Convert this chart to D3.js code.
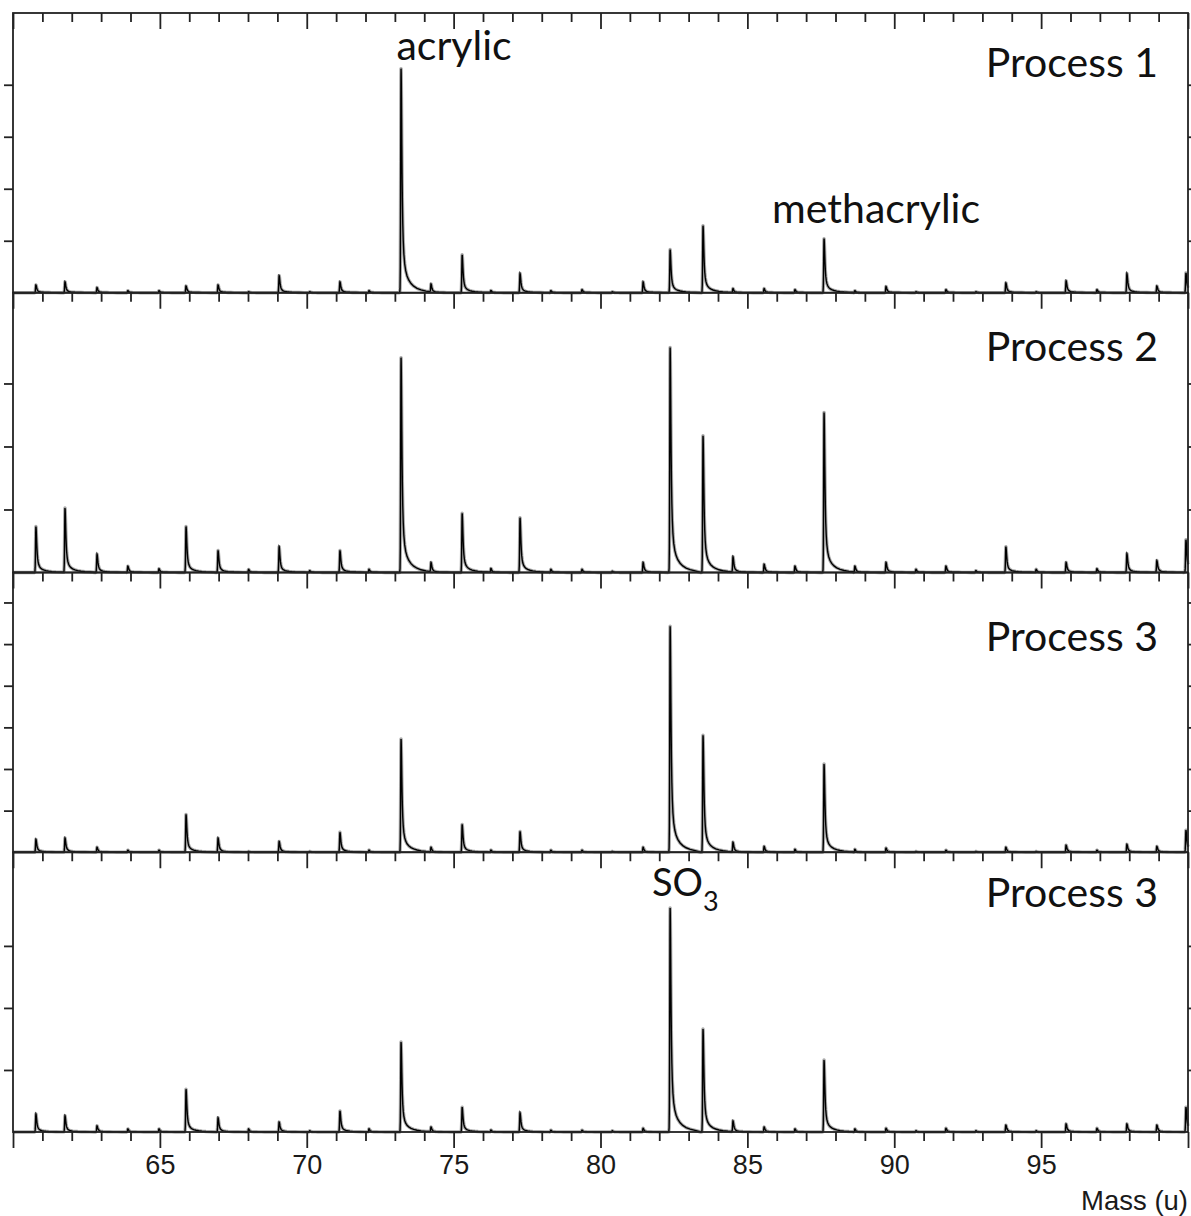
<!DOCTYPE html>
<html>
<head>
<meta charset="utf-8">
<script src="https://cdn.jsdelivr.net/npm/d3@7"></script>
<style>
  body { margin: 0; background: #fff; }
  svg { display: block; }
</style>
</head>
<body>
<div id="chart"></div>
<script>
// peak positions (u), shared by all four spectra
var masses = [60.78, 61.77, 62.86, 63.91, 64.97, 65.89, 66.98, 68.02, 69.06, 70.10,
  71.13, 72.12, 73.21, 74.23, 75.29, 76.27, 77.26, 78.31, 79.37, 80.40,
  81.45, 82.37, 83.49, 84.51, 85.57, 86.62, 87.61, 88.66, 89.72, 90.74,
  91.76, 92.78, 93.80, 94.83, 95.85, 96.90, 97.92, 98.94, 99.93];

// peak heights (axis units), one value per mass above
var process1 = [0.15, 0.21, 0.10, 0.04, 0.04, 0.13, 0.15, 0.02, 0.33, 0.02,
  0.21, 0.04, 4.31, 0.17, 0.73, 0.04, 0.37, 0.04, 0.06, 0.02,
  0.21, 0.83, 1.29, 0.08, 0.08, 0.06, 1.04, 0.04, 0.12, 0.02,
  0.06, 0.02, 0.19, 0.02, 0.23, 0.06, 0.37, 0.13, 0.38];
var process2 = [0.73, 1.02, 0.29, 0.10, 0.06, 0.73, 0.35, 0.05, 0.41, 0.03,
  0.35, 0.05, 3.41, 0.16, 0.94, 0.06, 0.87, 0.05, 0.05, 0.02,
  0.16, 3.57, 2.17, 0.25, 0.13, 0.10, 2.54, 0.10, 0.16, 0.05,
  0.10, 0.03, 0.41, 0.05, 0.16, 0.06, 0.30, 0.19, 0.52];
var process3a = [0.31, 0.34, 0.12, 0.05, 0.05, 0.91, 0.34, 0.02, 0.26, 0.02,
  0.48, 0.05, 2.72, 0.12, 0.67, 0.05, 0.50, 0.05, 0.05, 0.02,
  0.12, 5.43, 2.81, 0.24, 0.14, 0.07, 2.12, 0.07, 0.10, 0.02,
  0.05, 0.02, 0.12, 0.02, 0.17, 0.05, 0.19, 0.14, 0.53];
var process3b = [0.29, 0.26, 0.10, 0.05, 0.05, 0.69, 0.23, 0.05, 0.16, 0.02,
  0.34, 0.05, 1.45, 0.08, 0.40, 0.03, 0.31, 0.03, 0.03, 0.02,
  0.06, 3.61, 1.66, 0.18, 0.08, 0.05, 1.16, 0.05, 0.06, 0.02,
  0.06, 0.02, 0.11, 0.02, 0.13, 0.06, 0.13, 0.11, 0.40];

var panelNames = ["Process 1", "Process 2", "Process 3", "Process 3"];
var panelData = [process1, process2, process3a, process3b];
var yMax = [5.38, 4.44, 6.72, 4.51];
var yTicks = [[1, 2, 3, 4], [1, 2, 3], [1, 2, 3, 4, 5, 6], [1, 2, 3]];

var xDomain = [60, 100];
var xMajor = [60, 65, 70, 75, 80, 85, 90, 95, 100];
var xMinor = d3.range(61, 100).filter(function(v) { return v % 5 !== 0; });
var xLabels = ["65", "70", "75", "80", "85", "90", "95"];

var annoText = ["acrylic", "methacrylic"];
var annoMass = [73.21, 87.61];

var W = 1191, H = 1216;
var padL = 13, padR = 1188, padT = 13, padB = 1132;
var ph = (padB - padT) / 4;
var ink = "#222";

var svg = d3.select("#chart").append("svg")
  .attr("width", W)
  .attr("height", H);

var x = d3.scaleLinear().domain(xDomain).range([padL, padR]);

// line shape of one peak, d = offset from the peak centre in u
function shape(d, g) {
  if (d < 0) return Math.exp(-(d / (g * 0.5)) * (d / (g * 0.5)));
  return 0.9 / (1 + (d / g) * (d / g)) + 0.1 * Math.exp(-d / 0.3);
}
var offs = [-0.06, -0.04, -0.03, -0.022, -0.016, -0.011, -0.006, -0.003, 0,
  0.004, 0.008, 0.012, 0.017, 0.023, 0.03, 0.04, 0.052, 0.066, 0.085, 0.11,
  0.14, 0.18, 0.23, 0.3, 0.38, 0.48, 0.6, 0.75, 0.92];

function trace(heights, g) {
  var xs = [xDomain[0], xDomain[1]];
  masses.forEach(function(m) {
    offs.forEach(function(o) { xs.push(m + o * g / 0.03); });
  });
  xs = xs.filter(function(v) { return v >= xDomain[0] && v <= xDomain[1]; })
    .sort(d3.ascending);
  return xs.map(function(v) {
    var s = 0;
    masses.forEach(function(m, k) {
      var d = v - m;
      if (d > -0.2 && d < 1.0) s += heights[k] * shape(d, g);
    });
    return [v, s];
  });
}

panelData.forEach(function(heights, i) {
  var t = padT + i * ph;
  var y = d3.scaleLinear().domain([0, yMax[i]]).range([t + ph, t]);
  var g = svg.append("g");

  var line = d3.line()
    .x(function(d) { return x(d[0]); })
    .y(function(d) { return y(d[1]); });

  var pts = trace(heights, 0.034);

  // grey halo under the black trace
  g.append("path")
    .attr("d", line(pts))
    .attr("fill", "none")
    .attr("stroke", "#a8a8a8")
    .attr("stroke-width", 3.4)
    .attr("stroke-linejoin", "round");

  g.append("path")
    .attr("d", line(pts))
    .attr("fill", "none")
    .attr("stroke", "#000")
    .attr("stroke-width", 1.4);

  // y ticks, left and right, no labels
  g.append("g")
    .attr("transform", "translate(" + padL + ",0)")
    .call(d3.axisLeft(y).tickValues(yTicks[i]).tickSize(9).tickSizeOuter(0).tickFormat(""))
    .select(".domain").remove();
  g.append("g")
    .attr("transform", "translate(" + padR + ",0)")
    .call(d3.axisRight(y).tickValues(yTicks[i]).tickSize(9).tickSizeOuter(0).tickFormat(""))
    .select(".domain").remove();

  g.append("rect")
    .attr("x", padL).attr("y", t)
    .attr("width", padR - padL).attr("height", ph)
    .attr("fill", "none")
    .attr("stroke", ink)
    .attr("stroke-width", 1.8);

  g.append("text")
    .attr("x", 1158)
    .attr("y", t + [64, 68, 78, 55][i])
    .attr("text-anchor", "end")
    .style("font-family", "Lato, 'Open Sans', sans-serif")
    .style("font-size", "41px")
    .attr("fill", "#111")
    .text(panelNames[i]);
});

// x ticks on top of panel 1 and under each panel, all pointing down
d3.range(5).forEach(function(i) {
  var yy = padT + i * ph;
  var gMinor = svg.append("g")
    .attr("transform", "translate(0," + yy + ")")
    .call(d3.axisBottom(x).tickValues(xMinor).tickSize(9).tickSizeOuter(0).tickFormat(""));
  var gMajor = svg.append("g")
    .attr("transform", "translate(0," + yy + ")")
    .call(d3.axisBottom(x).tickValues(xMajor).tickSize(16).tickSizeOuter(0)
      .tickFormat(function(v) { return (i === 4 && xLabels.indexOf(String(v)) >= 0) ? String(v) : ""; }));
  gMinor.select(".domain").remove();
  gMajor.select(".domain").remove();
  gMajor.selectAll("text")
    .attr("y", 42)
    .attr("dy", 0)
    .style("font-family", "'Liberation Sans', Arial, sans-serif")
    .style("font-size", "27px")
    .attr("fill", "#1a1a1a");
});

svg.selectAll(".tick line")
  .attr("stroke", ink)
  .attr("stroke-width", 1.8);

svg.append("text")
  .attr("x", padR)
  .attr("y", 1210)
  .attr("text-anchor", "end")
  .style("font-family", "'Liberation Sans', Arial, sans-serif")
  .style("font-size", "27.5px")
  .attr("fill", "#1a1a1a")
  .text("Mass (u)");

// peak annotations
var annoY = [60, 223];
annoText.forEach(function(s, k) {
  svg.append("text")
    .attr("x", x(annoMass[k]) + [53, 52][k])
    .attr("y", annoY[k])
    .attr("text-anchor", "middle")
    .style("font-family", "Lato, 'Open Sans', sans-serif")
    .style("font-size", "41px")
    .attr("fill", "#111")
    .text(s);
});

var so3 = svg.append("text")
  .attr("x", 652)
  .attr("y", 896)
  .style("font-family", "Lato, 'Open Sans', sans-serif")
  .style("font-size", "38px")
  .attr("fill", "#111");
so3.append("tspan").text("SO");
so3.append("tspan")
  .attr("dy", 15)
  .style("font-size", "27px")
  .text("3");
</script>
</body>
</html>
